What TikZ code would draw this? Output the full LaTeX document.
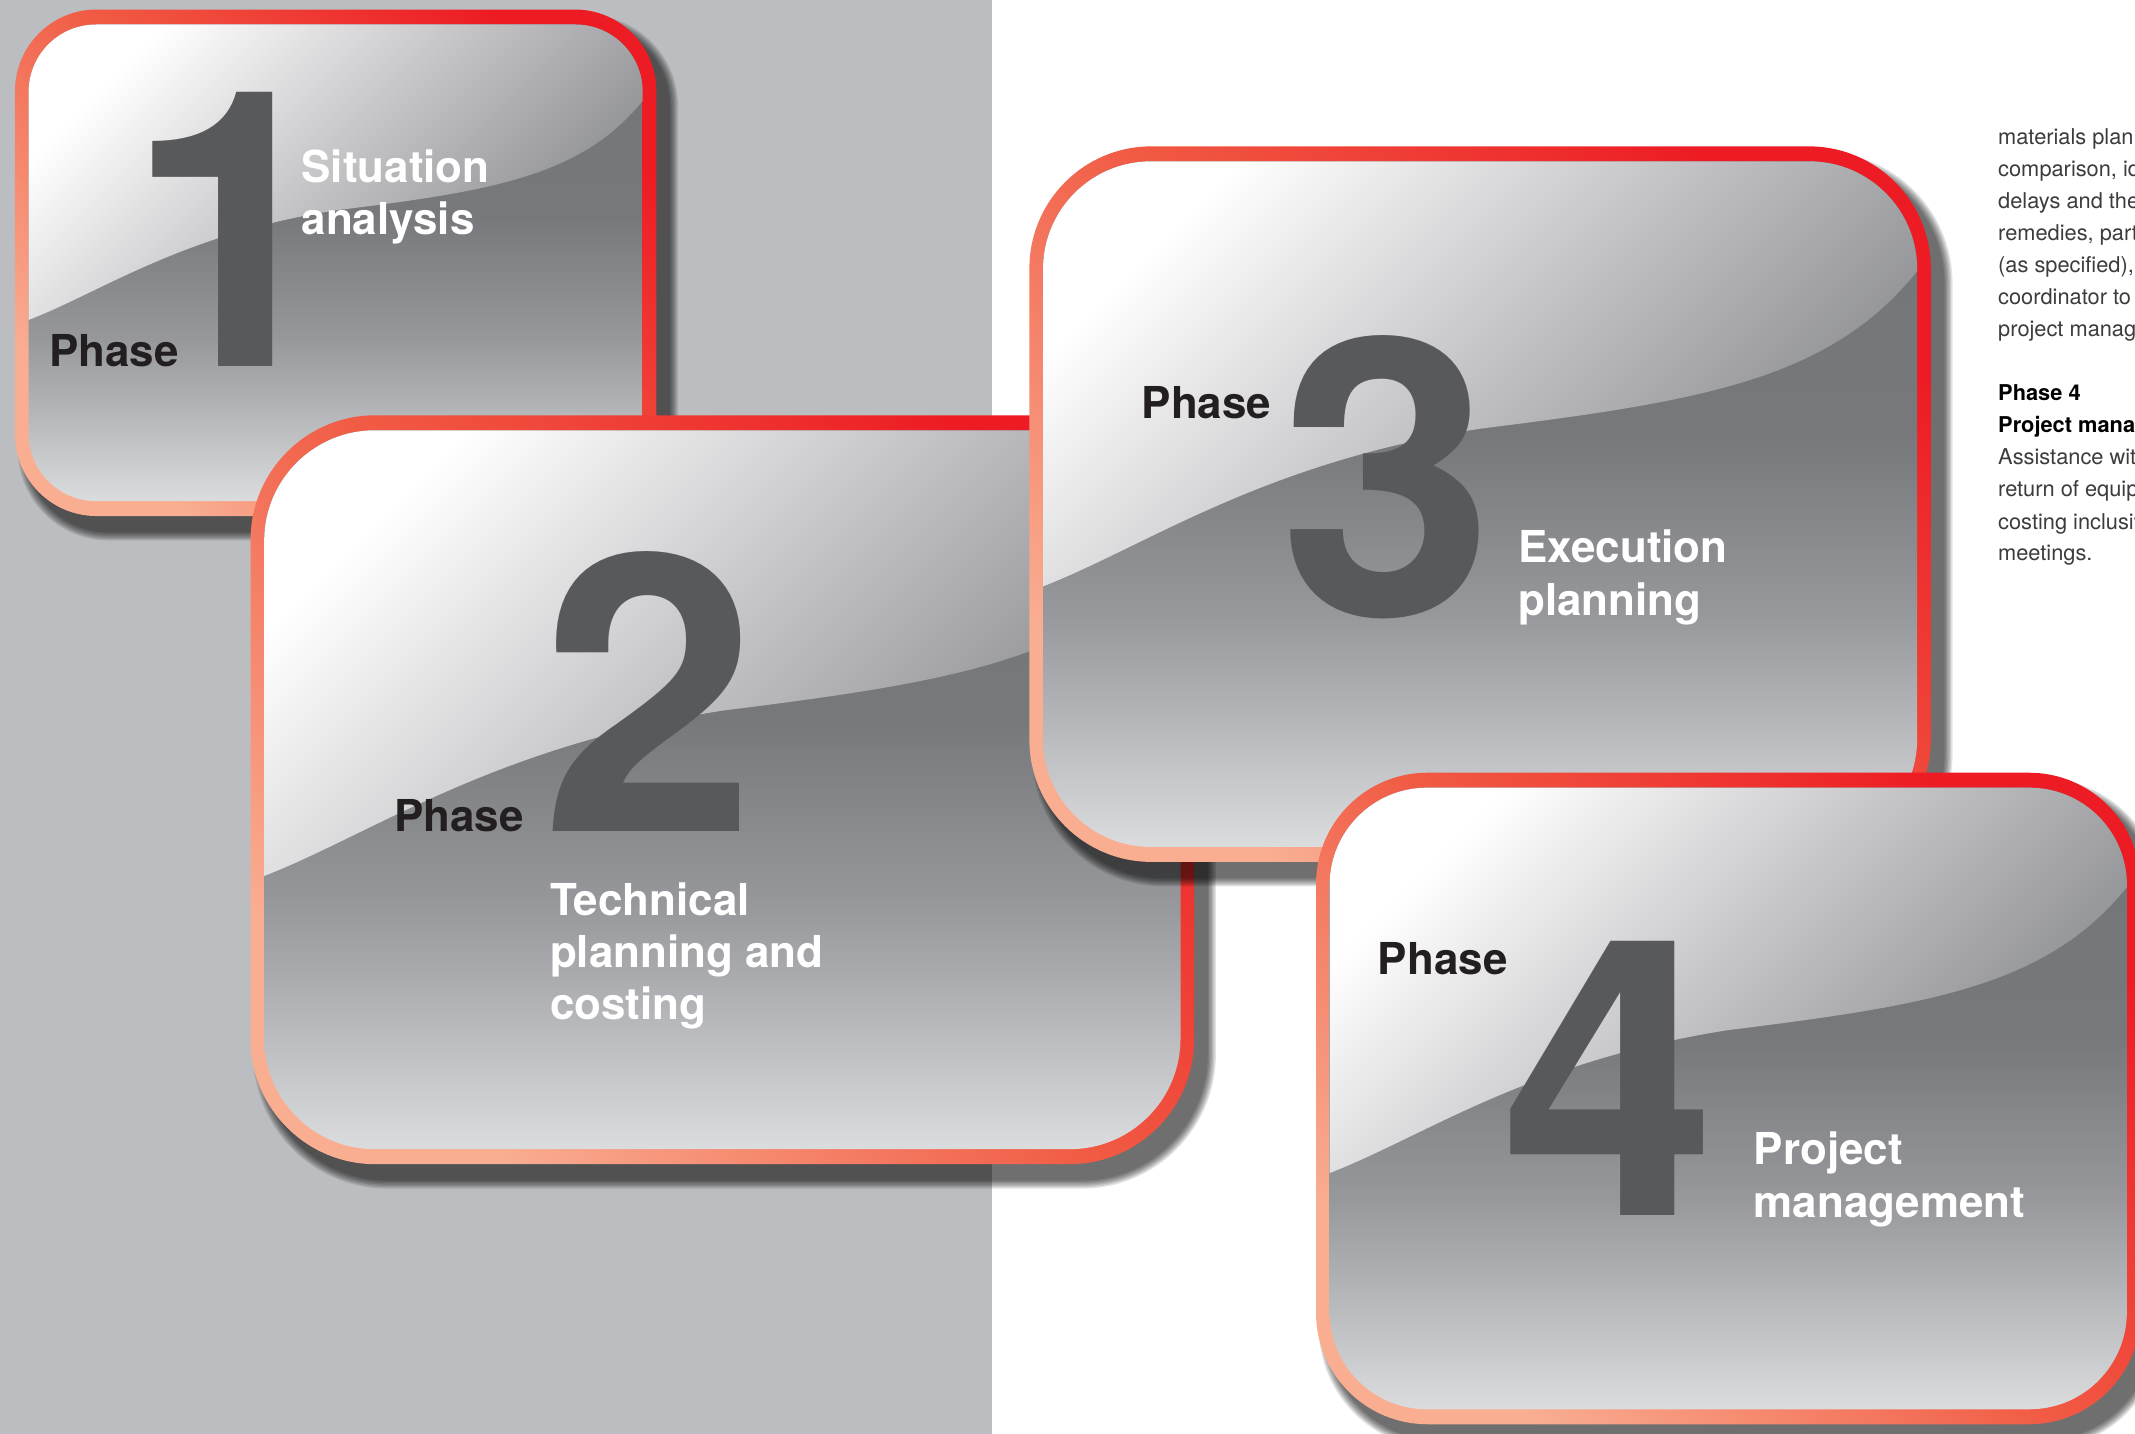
\documentclass[tikz,border=0pt]{standalone}
\usepackage{fontspec}
\setmainfont{TeX Gyre Heros}
\definecolor{bggray}{HTML}{BCBDC0}
\definecolor{bsalmon}{HTML}{F9AE92}
\definecolor{bmid}{HTML}{F15B44}
\definecolor{bred}{HTML}{ED1C24}
\definecolor{ctop}{HTML}{747578}
\definecolor{cmid}{HTML}{77787B}
\definecolor{cmb}{HTML}{97989B}
\definecolor{cmc}{HTML}{AEAFB2}
\definecolor{cbot}{HTML}{DBDCDE}
\definecolor{hlmid}{HTML}{C2C2C5}
\definecolor{hlend}{HTML}{87888B}
\definecolor{phaseblack}{HTML}{231F20}
\definecolor{digitgray}{HTML}{58595B}
\definecolor{bodygray}{HTML}{3C3C3E}
\pgfdeclareverticalshading{cardbase}{100bp}{color(0bp)=(cbot); color(25bp)=(cbot); color(36bp)=(cmc); color(42bp)=(cmb); color(55bp)=(cmid); color(75bp)=(ctop); color(100bp)=(ctop)}
\tikzset{
  phaseword/.style={font=\fontsize{12.5}{15}\selectfont\bfseries, text=phaseblack, anchor=base west, inner sep=0pt},
  bigdigit/.style={font=\fontsize{110}{110}\selectfont\bfseries, text=digitgray, anchor=base, inner sep=0pt},
  cardlabel/.style={font=\fontsize{12.5}{15}\selectfont\bfseries, text=white, anchor=base west, inner sep=0pt},
  bodytext/.style={font=\fontsize{6.2}{9}\selectfont, text=bodygray, anchor=base west, inner sep=0pt},
  bodyhead/.style={bodytext, font=\fontsize{6.2}{9}\selectfont\bfseries, text=black}
}
\newcommand{\phcard}[5]{%
  \pgfmathsetmacro\cxa{#1}\pgfmathsetmacro\cya{#2}%
  \pgfmathsetmacro\cxb{#3}\pgfmathsetmacro\cyb{#4}%
  \pgfmathsetmacro\crad{#5}%
  \foreach \e in {7,6,5,4,3,2,1}{%
    \pgfmathsetmacro\sr{\crad+\e*0.386}%
    \fill[black, opacity=0.11, rounded corners=\sr pt] ({\cxa+9-\e},{\cya+11-\e}) rectangle ({\cxb+9+\e},{\cyb+11+\e});
  }%
  \shade[rounded corners=\crad pt, left color=bsalmon, right color=bred, middle color=bmid, shading angle=135] (\cxa,\cya) rectangle (\cxb,\cyb);
  \pgfmathsetmacro\xa{\cxa+10}\pgfmathsetmacro\ya{\cya+11}%
  \pgfmathsetmacro\xb{\cxb-10}\pgfmathsetmacro\yb{\cyb-11}%
  \pgfmathsetmacro\irad{\crad-4}%
  \pgfmathsetmacro\ww{\xb-\xa}\pgfmathsetmacro\hh{\yb-\ya}%
  \shade[rounded corners=\irad pt, shading=cardbase] (\xa,\ya) rectangle (\xb,\yb);
  \begin{scope}
    \clip[rounded corners=\irad pt] (\xa,\ya) rectangle (\xb,\yb);
    \shade[left color=white, right color=hlend, middle color=hlmid, shading angle=45]
      (\xa,\ya) -- ({\xa},{\ya+0.62*\hh})
      .. controls ({\xa+0.12*\ww},{\ya+0.56*\hh}) and ({\xa+0.25*\ww},{\ya+0.44*\hh}) .. ({\xa+0.5*\ww},{\ya+0.39*\hh})
      .. controls ({\xa+0.75*\ww},{\ya+0.35*\hh}) and ({\xa+0.9*\ww},{\ya+0.32*\hh}) .. ({\xb},{\ya+0.16*\hh})
      -- (\xb,\ya) -- cycle;
  \end{scope}
}
\begin{document}
\begin{tikzpicture}[x=0.013616cm, y=-0.013616cm]
\useasboundingbox (0,0) rectangle (1568,1053);
\clip (0,0) rectangle (1568,1053);
\fill[white] (0,0) rectangle (1568,1053);
\fill[bggray] (0,0) rectangle (728.5,1053);

% Phase 1
\phcard{11}{7}{482}{379}{23.2}
\node[phaseword] (p1) at (35.5,269.5) {Phase};
\node[bigdigit] (d1) at (172,269.5) {1};
\node[cardlabel] (t1a) at (221,134) {Situation};
\node[cardlabel] (t1b) at (221,172) {analysis};

% Phase 2
\phcard{184}{305}{877}{855}{35.5}
\node[phaseword] (p2) at (289,610.5) {Phase};
\node[bigdigit] (d2) at (476.5,611) {2};
\node[cardlabel] (t2a) at (403.5,672) {Technical};
\node[cardlabel] (t2b) at (403.5,710.5) {planning and};
\node[cardlabel] (t2c) at (403.5,749) {costing};

% Phase 3
\phcard{756}{107.5}{1418}{633}{34.7}
\node[phaseword] (p3) at (838,307) {Phase};
\node[bigdigit] (d3) at (1018.5,452) {3};
\node[cardlabel] (t3a) at (1114.5,413) {Execution};
\node[cardlabel] (t3b) at (1114.5,452) {planning};

% Phase 4
\phcard{966.5}{567.5}{1572}{1046}{31.7}
\node[phaseword] (p4) at (1011.5,716) {Phase};
\node[bigdigit] (d4) at (1182,893) {4};
\node[cardlabel] (t4a) at (1287.5,855.5) {Project};
\node[cardlabel] (t4b) at (1287.5,894) {management};

% right column text
\node[bodytext] (r1) at (1467,106) {materials plann};
\node[bodytext] (r2) at (1467,130) {comparison, id};
\node[bodytext] (r3) at (1467,153) {delays and the};
\node[bodytext] (r4) at (1467,177) {remedies, part};
\node[bodytext] (r5) at (1467,200) {(as specified),};
\node[bodytext] (r6) at (1467,224) {coordinator to};
\node[bodytext] (r7) at (1467,247) {project manag};
\node[bodyhead] (r8) at (1467,294.5) {Phase 4};
\node[bodyhead] (r9) at (1467,318) {Project mana};
\node[bodytext] (r10) at (1467,341) {Assistance wit};
\node[bodytext] (r11) at (1467,365) {return of equip};
\node[bodytext] (r12) at (1467,389) {costing inclusiv};
\node[bodytext] (r13) at (1467,412) {meetings.};
\end{tikzpicture}
\end{document}
